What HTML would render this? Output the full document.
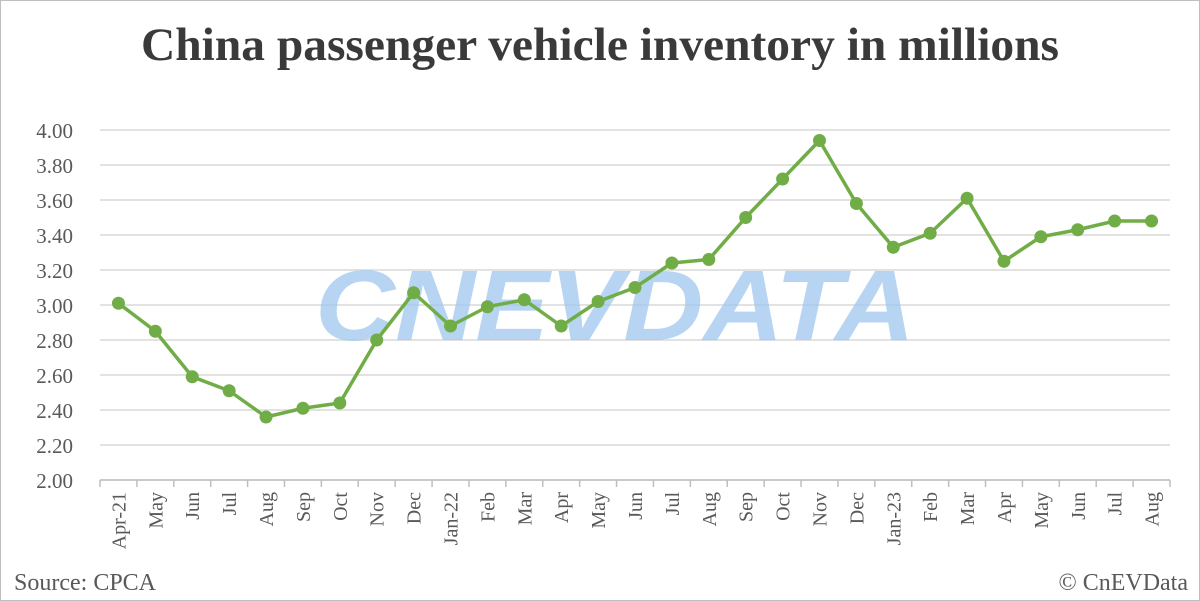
<!DOCTYPE html>
<html><head><meta charset="utf-8"><style>
body{margin:0;background:#fff}
svg{display:block}
text{font-family:"Liberation Serif",serif;fill:#595959}
</style></head><body>
<svg width="1200" height="601" viewBox="0 0 1200 601" xmlns="http://www.w3.org/2000/svg">
<rect x="0.5" y="0.5" width="1199" height="600" fill="#fff" stroke="#bfbfbf"/>
<text x="600" y="60" text-anchor="middle" font-size="47" font-weight="bold" textLength="918" lengthAdjust="spacingAndGlyphs" style="fill:#3a3a3a">China passenger vehicle inventory in millions</text>
<g stroke="#d9d9d9" stroke-width="1.5">
<line x1="100" x2="1170" y1="130" y2="130"/><line x1="100" x2="1170" y1="165" y2="165"/>
<line x1="100" x2="1170" y1="200" y2="200"/><line x1="100" x2="1170" y1="235" y2="235"/>
<line x1="100" x2="1170" y1="270" y2="270"/><line x1="100" x2="1170" y1="305" y2="305"/>
<line x1="100" x2="1170" y1="340" y2="340"/><line x1="100" x2="1170" y1="375" y2="375"/>
<line x1="100" x2="1170" y1="410" y2="410"/><line x1="100" x2="1170" y1="445" y2="445"/>
<line x1="100" x2="1170" y1="480" y2="480"/>
</g>
<g font-size="21" text-anchor="end">
<text x="73" y="138">4.00</text><text x="73" y="173">3.80</text><text x="73" y="208">3.60</text>
<text x="73" y="243">3.40</text><text x="73" y="278">3.20</text><text x="73" y="313">3.00</text>
<text x="73" y="348">2.80</text><text x="73" y="383">2.60</text><text x="73" y="418">2.40</text>
<text x="73" y="453">2.20</text><text x="73" y="488">2.00</text>
</g>
<text x="615" y="340" text-anchor="middle" font-size="100" font-weight="bold" font-style="italic" textLength="600" lengthAdjust="spacingAndGlyphs" style="font-family:'Liberation Sans',sans-serif;fill:#9fc8f0;opacity:0.75">CNEVDATA</text>
<g id="ticks" stroke="#bfbfbf" stroke-width="1.5"></g>
<g id="labels" font-size="20"></g>
<polyline id="line" fill="none" stroke="#70ad47" stroke-width="3.5" stroke-linejoin="round"/>
<g id="dots" fill="#70ad47"></g>
<text x="14" y="590" font-size="24">Source: CPCA</text>
<text x="1188" y="590" font-size="24" text-anchor="end">© CnEVData</text>
<script>
var d=[3.01,2.85,2.59,2.51,2.36,2.41,2.44,2.80,3.07,2.88,2.99,3.03,2.88,3.02,3.10,3.24,3.26,3.50,3.72,3.94,3.58,3.33,3.41,3.61,3.25,3.39,3.43,3.48,3.48];
var L=["Apr-21","May","Jun","Jul","Aug","Sep","Oct","Nov","Dec","Jan-22","Feb","Mar","Apr","May","Jun","Jul","Aug","Sep","Oct","Nov","Dec","Jan-23","Feb","Mar","Apr","May","Jun","Jul","Aug"];
var ns="http://www.w3.org/2000/svg",w=1070/29,pts=[];
var T=document.getElementById("ticks"),G=document.getElementById("labels"),D=document.getElementById("dots");
function el(n,a,p){var e=document.createElementNS(ns,n);for(var k in a)e.setAttribute(k,a[k]);p.appendChild(e);return e;}
el("line",{x1:100,x2:1170,y1:480,y2:480},T);
for(var i=0;i<=29;i++)el("line",{x1:100+i*w,x2:100+i*w,y1:480,y2:487},T);
for(var i=0;i<29;i++){var x=100+w*(i+.5),y=480-(d[i]-2)*175;pts.push(x+","+y);
el("circle",{cx:x,cy:y,r:6.5},D);
var t=el("text",{x:0,y:0,"text-anchor":"end",transform:"translate("+(x+7)+",492) rotate(-90)"},G);t.textContent=L[i];}
document.getElementById("line").setAttribute("points",pts.join(" "));
</script>
</svg>
</body></html>
